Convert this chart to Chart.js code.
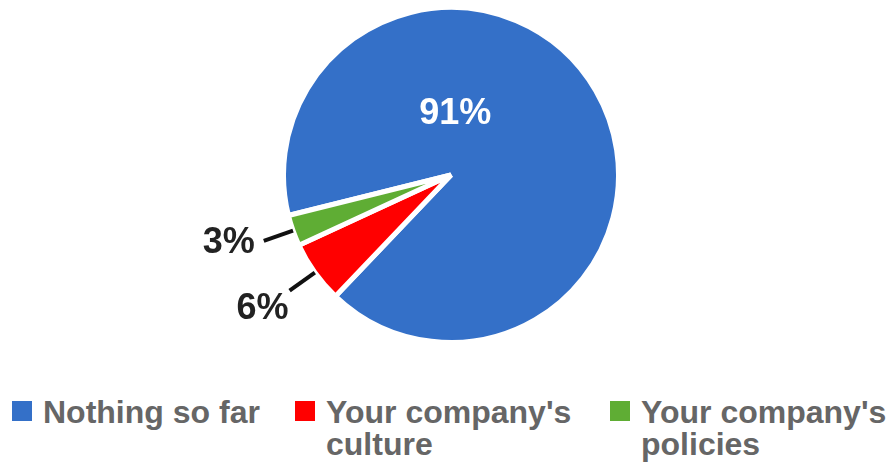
<!DOCTYPE html>
<html>
<head>
<meta charset="utf-8">
<script src="https://cdn.jsdelivr.net/npm/chart.js@4"></script>
<style>
  html, body { margin: 0; padding: 0; background: #fff; width: 886px; height: 462px; overflow: hidden; }
  #wrap { position: relative; width: 886px; height: 462px; }
  #chart { position: absolute; left: 0; top: 0; }
  .item { position: absolute; top: 396px; display: flex; align-items: flex-start;
          font: bold 32px "Liberation Sans", Arial, sans-serif; color: #666; line-height: 32px; }
  .item .box { width: 20px; height: 20px; margin-top: 5px; margin-right: 11px; flex: none; }
</style>
</head>
<body>
<div id="wrap">
  <canvas id="chart" width="886" height="350"></canvas>
  <div id="legend"></div>
</div>
<script>
const labels = ["Nothing so far", "Your company's culture", "Your company's policies"];
const values = [91, 6, 3];
const colors = ["#3470c8", "#ff0000", "#5fad34"];

// legend en html, porque chart.js no parte el texto en dos lineas
const legendLeft = [12, 295, 610];
const legendWidth = [240, 252, 260];
const legend = document.querySelector("#legend");
labels.forEach((txt, i) => {
    const item = document.createElement("div");
    item.className = "item";
    item.style.left = legendLeft[i] + "px";
    item.innerHTML = `<span class="box" style="background:${colors[i]}"></span><span style="width:${legendWidth[i]}px">${txt}</span>`;
    legend.appendChild(item);
});

// porcentajes dentro y fuera de la torta
const sliceLabels = {
    id: "sliceLabels",
    afterDatasetsDraw(chart, args, opts) {
        const {ctx} = chart;
        const total = values.reduce((a, b) => a + b, 0);
        const meta = chart.getDatasetMeta(0);
        ctx.save();
        ctx.font = 'bold 36px "Liberation Sans", Arial, sans-serif';
        ctx.textAlign = "center";
        ctx.textBaseline = "middle";
        meta.data.forEach((arc, i) => {
            const {x, y, startAngle, endAngle, outerRadius} =
                arc.getProps(["x", "y", "startAngle", "endAngle", "outerRadius"], true);
            const text = Math.round(values[i] / total * 100) + "%";
            const p = opts.place[i];
            if (p.inside) {
                const a = p.angle * Math.PI / 180;
                ctx.fillStyle = "#fff";
                ctx.fillText(text, x + Math.cos(a) * p.dist, y + Math.sin(a) * p.dist);
                return;
            }
            const mid = (startAngle + endAngle) / 2;
            const x1 = x + Math.cos(mid) * outerRadius;
            const y1 = y + Math.sin(mid) * outerRadius;
            const x2 = x + Math.cos(mid) * (outerRadius + 31);
            const y2 = y + Math.sin(mid) * (outerRadius + 31);
            ctx.strokeStyle = "#111";
            ctx.lineWidth = 4;
            ctx.beginPath();
            ctx.moveTo(x1, y1);
            ctx.lineTo(x2, y2);
            ctx.stroke();
            ctx.fillStyle = "#222";
            ctx.fillText(text, x2 + p.dx, y2 + p.dy);
        });
        ctx.restore();
    }
};

new Chart(document.querySelector("#chart"), {
    type: "pie",
    data: {
        labels: labels,
        datasets: [{
            data: values,
            backgroundColor: colors,
            borderColor: "#fff",
            borderWidth: 5
        }]
    },
    options: {
        responsive: false,
        animation: false,
        rotation: 256,
        layout: { padding: { left: 16, right: 0, top: 5, bottom: 5 } },
        plugins: {
            legend: { display: false },
            tooltip: { enabled: false },
            sliceLabels: {
                place: [
                    { inside: true, angle: -86, dist: 61 },
                    { dx: -27, dy: 19 },
                    { dx: -35, dy: 2 }
                ]
            }
        }
    },
    plugins: [sliceLabels]
});
</script>
</body>
</html>
